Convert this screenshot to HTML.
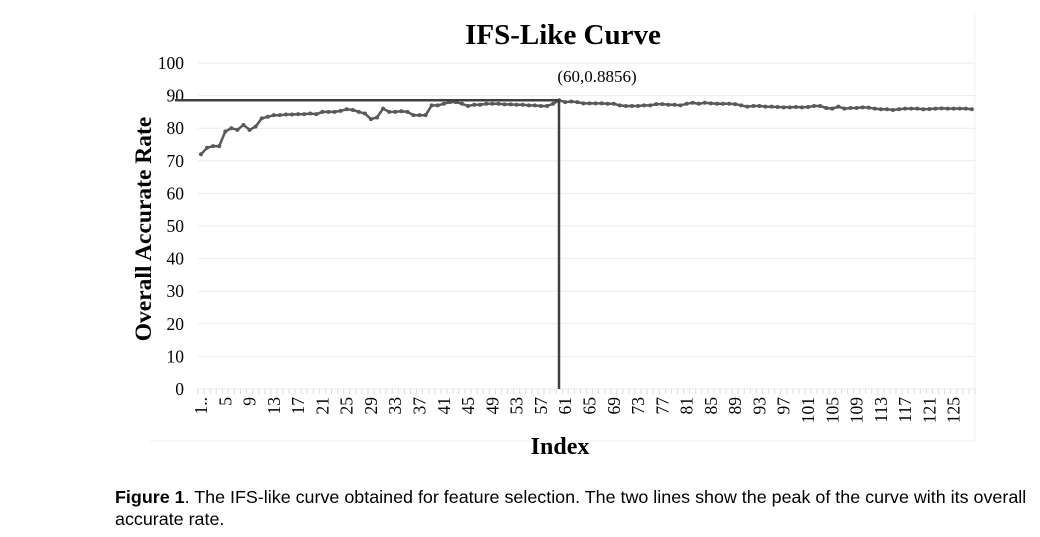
<!DOCTYPE html>
<html><head><style>
body{margin:0;background:#fff;width:1040px;height:537px;overflow:hidden}
.cap{position:absolute;left:115px;font:17.9px "Liberation Sans",sans-serif;color:#000;white-space:nowrap}
</style></head><body>
<svg id="s" width="1040" height="537" style="position:absolute;left:0;top:0" font-family="Liberation Serif, serif"></svg>
<div class="cap" style="top:487px"><b>Figure 1</b>. The IFS-like curve obtained for feature selection. The two lines show the peak of the curve with its overall</div>
<div class="cap" style="top:509px">accurate rate.</div>
<script>
const s=document.getElementById('s');let h='';
const X0=198,X1=975,Y0=389,k=3.26;
const y=v=>Y0-v*k, x=i=>201+(i-1)*6.07;
h+=`<line x1="${X1}" y1="14" x2="${X1}" y2="441" stroke="#f2f2f2"/><line x1="150" y1="441" x2="${X1}" y2="441" stroke="#f2f2f2"/>`;
for(let v=0;v<=100;v+=10){h+=`<line x1="${X0}" x2="${X1}" y1="${y(v)}" y2="${y(v)}" stroke="#ebebeb"/><text x="184" y="${y(v)+6}" text-anchor="end" font-size="17.5">${v}</text>`;}
for(let i=0;i<=128;i++){const xx=X0+i*6.07;h+=`<line x1="${xx}" x2="${xx}" y1="389" y2="394" stroke="#ddd"/>`;}
for(let i=1;i<=125;i+=4){const l=i==1?'1..':i;h+=`<text transform="translate(${x(i)+6},397) rotate(-90)" text-anchor="end" font-size="17.5">${l}</text>`;}
const d=[72,74,74.5,74.5,79,80,79.5,81,79.5,80.5,83,83.5,84,84,84.2,84.2,84.3,84.3,84.5,84.3,85,85,85,85.3,85.8,85.6,85,84.5,82.8,83.3,86,85,85,85.2,85,84,84,84,87,87,87.5,88,88,87.5,86.8,87.2,87.2,87.5,87.5,87.5,87.3,87.3,87.2,87.2,87,87,86.8,86.8,87.5,88.56,88,88.2,88,87.6,87.6,87.6,87.6,87.5,87.5,87,86.8,86.8,86.8,87,87,87.4,87.4,87.2,87.2,87,87.5,87.8,87.5,87.8,87.6,87.5,87.5,87.5,87.4,87,86.6,86.8,86.8,86.6,86.6,86.5,86.4,86.4,86.5,86.4,86.5,86.8,86.8,86.2,86,86.6,86,86.2,86.2,86.4,86.3,86,85.8,85.8,85.6,85.8,86,86,86,85.8,85.9,86,86.1,86,86,86,86,85.8];
let p=d.map((v,i)=>`${x(i+1).toFixed(1)},${y(v).toFixed(1)}`).join(' ');
h+=`<polyline points="${p}" fill="none" stroke="#595959" stroke-width="2.5"/>`;
d.forEach((v,i)=>h+=`<circle cx="${x(i+1)}" cy="${y(v)}" r="2" fill="#595959"/>`);
const py=y(88.56);
h+=`<line x1="175" x2="559" y1="${py}" y2="${py}" stroke="#404040" stroke-width="2.5"/><line x1="559" x2="559" y1="${py}" y2="389" stroke="#404040" stroke-width="2.5"/>`;
h+=`<text x="597" y="82" text-anchor="middle" font-size="17">(60,0.8856)</text>`;
h+=`<text x="563" y="44" text-anchor="middle" font-size="29" font-weight="bold">IFS-Like Curve</text>`;
h+=`<text x="560" y="454" text-anchor="middle" font-size="24" font-weight="bold">Index</text>`;
h+=`<text transform="translate(151,229) rotate(-90)" text-anchor="middle" font-size="23.5" font-weight="bold">Overall Accurate Rate</text>`;
s.innerHTML=h;
</script>
</body></html>
